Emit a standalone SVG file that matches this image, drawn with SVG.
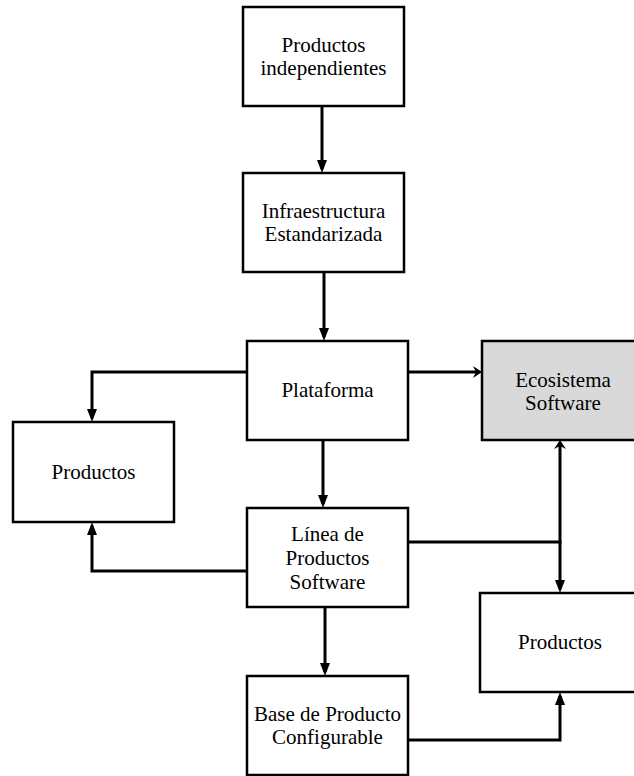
<svg xmlns="http://www.w3.org/2000/svg" width="634" height="776" viewBox="0 0 634 776">
  <style>
    .box { fill: #ffffff; stroke: #000000; stroke-width: 2.5; }
    .shaded { fill: #d9d9d9; }
    .label { font-family: "Liberation Serif", "Times New Roman", serif; font-size: 21px; fill: #000000; text-anchor: middle; }
    .wire { fill: none; stroke: #000000; stroke-width: 3; }
  </style>
  <defs>
    <!-- filled triangular head; tip sits 4px past the line end -->
    <marker id="tri" markerUnits="userSpaceOnUse" markerWidth="14" markerHeight="11" refX="9" refY="5" orient="auto" overflow="visible">
      <path d="M0,0 L13,5 L0,10 Z" fill="#000000"/>
    </marker>
    <!-- small barbed head used on the ecosystem links -->
    <marker id="barb" markerUnits="userSpaceOnUse" markerWidth="10" markerHeight="13" refX="5" refY="6" orient="auto" overflow="visible">
      <path d="M0,0 L9,6 L0,12 L3,6 Z" fill="#000000"/>
    </marker>
  </defs>

  <rect width="634" height="776" fill="#ffffff"/>

  <g id="connectors">
    <line class="wire" x1="322" y1="106" x2="322" y2="169" marker-end="url(#tri)"/>
    <line class="wire" x1="324" y1="272" x2="324" y2="337" marker-end="url(#tri)"/>
    <line class="wire" x1="323" y1="440" x2="323" y2="504" marker-end="url(#tri)"/>
    <line class="wire" x1="325" y1="607" x2="325" y2="672" marker-end="url(#tri)"/>
    <polyline class="wire" points="247,372 92,372 92,418" marker-end="url(#tri)"/>
    <polyline class="wire" points="247,571 92,571 92,526" marker-end="url(#tri)"/>
    <line class="wire" x1="408" y1="372" x2="478" y2="372" marker-end="url(#barb)"/>
    <line class="wire" x1="560" y1="542" x2="560" y2="444" marker-end="url(#barb)"/>
    <line class="wire" x1="560" y1="542" x2="560" y2="589" marker-end="url(#tri)"/>
    <line class="wire" x1="408" y1="542" x2="561.5" y2="542"/>
    <polyline class="wire" points="408,740 560,740 560,696" marker-end="url(#tri)"/>
  </g>

  <g id="productos-independientes">
    <rect class="box" x="243" y="7" width="161" height="99"/>
    <text class="label" x="323.5" y="52">Productos</text>
    <text class="label" x="323.5" y="75">independientes</text>
  </g>

  <g id="infraestructura">
    <rect class="box" x="243" y="173" width="161" height="99"/>
    <text class="label" x="323.5" y="218">Infraestructura</text>
    <text class="label" x="323.5" y="241">Estandarizada</text>
  </g>

  <g id="plataforma">
    <rect class="box" x="247" y="341" width="161" height="99"/>
    <text class="label" x="327.5" y="397">Plataforma</text>
  </g>

  <g id="ecosistema">
    <rect class="box shaded" x="482" y="341" width="162" height="99"/>
    <text class="label" x="563" y="387">Ecosistema</text>
    <text class="label" x="563" y="410">Software</text>
  </g>

  <g id="productos-izq">
    <rect class="box" x="13" y="422" width="161" height="100"/>
    <text class="label" x="93.5" y="479">Productos</text>
  </g>

  <g id="linea-productos">
    <rect class="box" x="247" y="508" width="161" height="99"/>
    <text class="label" x="327.5" y="541">Línea de</text>
    <text class="label" x="327.5" y="565">Productos</text>
    <text class="label" x="327.5" y="589">Software</text>
  </g>

  <g id="productos-der">
    <rect class="box" x="480" y="593" width="162" height="99"/>
    <text class="label" x="560" y="649">Productos</text>
  </g>

  <g id="base-producto">
    <rect class="box" x="247" y="676" width="161" height="99"/>
    <text class="label" x="327.5" y="721">Base de Producto</text>
    <text class="label" x="327.5" y="744">Configurable</text>
  </g>
</svg>
